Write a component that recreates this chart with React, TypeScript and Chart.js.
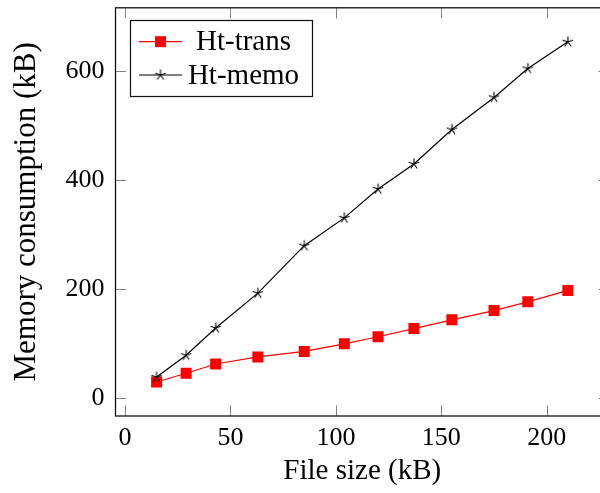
import React, { useEffect, useRef } from "react";
import { Chart, registerables } from "chart.js";

Chart.register(...registerables);

const xValues = [15, 29, 43, 63, 85, 104, 120, 137, 155, 175, 191, 210];
const htTrans = [29, 45, 62, 75, 85, 99, 112, 127, 143, 160, 176, 197];
const htMemo = [38, 78, 128, 192, 279, 330, 383, 429, 492, 551, 604, 653];
const xTicks = [0, 50, 100, 150, 200];
const yTicks = [0, 200, 400, 600];
const seriesLabels = ["Ht-trans", "Ht-memo"];
const xTitle = "File size (kB)";
const yTitle = "Memory consumption (kB)";

const FONT = "'Liberation Serif', 'Times New Roman', serif";

function makeStar(): HTMLCanvasElement {
  const c = document.createElement("canvas");
  c.width = 14;
  c.height = 14;
  const ctx = c.getContext("2d")!;
  ctx.strokeStyle = "#000";
  ctx.lineWidth = 1.1;
  const r = 5.5;
  ctx.beginPath();
  for (let i = 0; i < 5; i++) {
    const a = -Math.PI / 2 + (i * 2 * Math.PI) / 5;
    ctx.moveTo(7, 7);
    ctx.lineTo(7 + r * Math.cos(a), 7 + r * Math.sin(a));
  }
  ctx.stroke();
  return c;
}

export default function App() {
  const ref = useRef<HTMLCanvasElement | null>(null);

  useEffect(() => {
    document.body.style.margin = "0";
    const canvas = ref.current!;
    const star = makeStar();

    const boxPlugin = {
      id: "boxTicks",
      beforeDatasetsDraw(chart: any) {
        const { ctx, chartArea } = chart;
        const { left, right, top, bottom } = chartArea;
        const xs = chart.scales.x;
        const ys = chart.scales.y;
        const tl = 10.5;
        ctx.save();
        ctx.strokeStyle = "#808080";
        ctx.lineWidth = 1;
        ctx.beginPath();
        xTicks.forEach((v) => {
          const p = Math.round(xs.getPixelForValue(v)) + 0.5;
          ctx.moveTo(p, bottom);
          ctx.lineTo(p, bottom - tl);
          ctx.moveTo(p, top);
          ctx.lineTo(p, top + tl);
        });
        yTicks.forEach((v) => {
          const p = Math.round(ys.getPixelForValue(v)) + 0.5;
          ctx.moveTo(left, p);
          ctx.lineTo(left + tl, p);
          ctx.moveTo(right, p);
          ctx.lineTo(right - tl, p);
        });
        ctx.stroke();
        ctx.strokeStyle = "#111";
        ctx.lineWidth = 1.3;
        ctx.strokeRect(left, top, right - left, bottom - top);
        ctx.restore();
      },
      afterDraw(chart: any) {
        const { ctx } = chart;
        ctx.save();
        const bx = 130.5, by = 20.5, bw = 182, bh = 76;
        ctx.fillStyle = "#fff";
        ctx.fillRect(bx, by, bw, bh);
        ctx.strokeStyle = "#111";
        ctx.lineWidth = 1.2;
        ctx.strokeRect(bx, by, bw, bh);
        const rows = [41.7, 75];
        const colors = ["#ff0000", "#000000"];
        rows.forEach((ry, i) => {
          ctx.strokeStyle = colors[i];
          ctx.lineWidth = 1.2;
          ctx.beginPath();
          ctx.moveTo(139, ry);
          ctx.lineTo(182, ry);
          ctx.stroke();
          if (i === 0) {
            ctx.fillStyle = "#ff0000";
            ctx.fillRect(160.5 - 5.5, ry - 5.5, 11, 11);
          } else {
            ctx.drawImage(star, 160.5 - 7, ry - 7);
          }
          ctx.fillStyle = "#000";
          ctx.font = `29px ${FONT}`;
          ctx.textAlign = "center";
          ctx.textBaseline = "middle";
          ctx.fillText(seriesLabels[i], 243.5, ry + 1);
        });
        ctx.restore();
      },
    };

    const chart = new Chart(canvas, {
      type: "line",
      data: {
        datasets: [
          {
            label: seriesLabels[0],
            data: xValues.map((x, i) => ({ x, y: htTrans[i] })),
            borderColor: "#ff0000",
            backgroundColor: "#ff0000",
            borderWidth: 1.2,
            pointStyle: "rect",
            pointRadius: 7.8,
            pointBorderWidth: 0,
            pointBackgroundColor: "#ff0000",
            pointBorderColor: "#ff0000",
            tension: 0,
            order: 1,
          },
          {
            label: seriesLabels[1],
            data: xValues.map((x, i) => ({ x, y: htMemo[i] })),
            borderColor: "#000000",
            backgroundColor: "#000000",
            borderWidth: 1.2,
            pointStyle: star as any,
            pointRadius: 6,
            tension: 0,
            order: 0,
          },
        ],
      },
      options: {
        responsive: false,
        animation: false,
        events: [],
        layout: { padding: { top: 7, right: 11, left: 0, bottom: 0 } },
        plugins: {
          legend: { display: false },
          tooltip: { enabled: false },
        },
        scales: {
          x: {
            type: "linear",
            min: -4.5,
            max: 229.5,
            afterBuildTicks: (s: any) => {
              s.ticks = xTicks.map((v) => ({ value: v }));
            },
            afterFit: (s: any) => {
              s.height = 77;
              s.paddingLeft = 0;
              s.paddingRight = 0;
            },
            grid: { display: false, drawTicks: false },
            border: { display: false },
            ticks: {
              padding: 7,
              color: "#000",
              font: { family: FONT, size: 26 },
              maxRotation: 0,
            },
            title: {
              display: true,
              text: xTitle,
              color: "#000",
              font: { family: FONT, size: 29 },
              padding: { top: 0, bottom: 4 },
            },
          },
          y: {
            type: "linear",
            min: -33.4,
            max: 715.4,
            afterBuildTicks: (s: any) => {
              s.ticks = yTicks.map((v) => ({ value: v }));
            },
            afterFit: (s: any) => {
              s.width = 115.5;
              s.paddingTop = 0;
              s.paddingBottom = 0;
            },
            grid: { display: false, drawTicks: false },
            border: { display: false },
            ticks: {
              padding: 11,
              color: "#000",
              font: { family: FONT, size: 26 },
            },
            title: {
              display: true,
              text: yTitle,
              color: "#000",
              font: { family: FONT, size: 31 },
              padding: { top: 8, bottom: 0 },
            },
          },
        },
      },
      plugins: [boxPlugin],
    });
    return () => chart.destroy();
  }, []);

  return (
    <div style={{ width: 600, height: 493, overflow: "hidden", position: "relative" }}>
      <canvas ref={ref} width={620} height={493} style={{ display: "block", width: 620, height: 493 }} />
    </div>
  );
}
